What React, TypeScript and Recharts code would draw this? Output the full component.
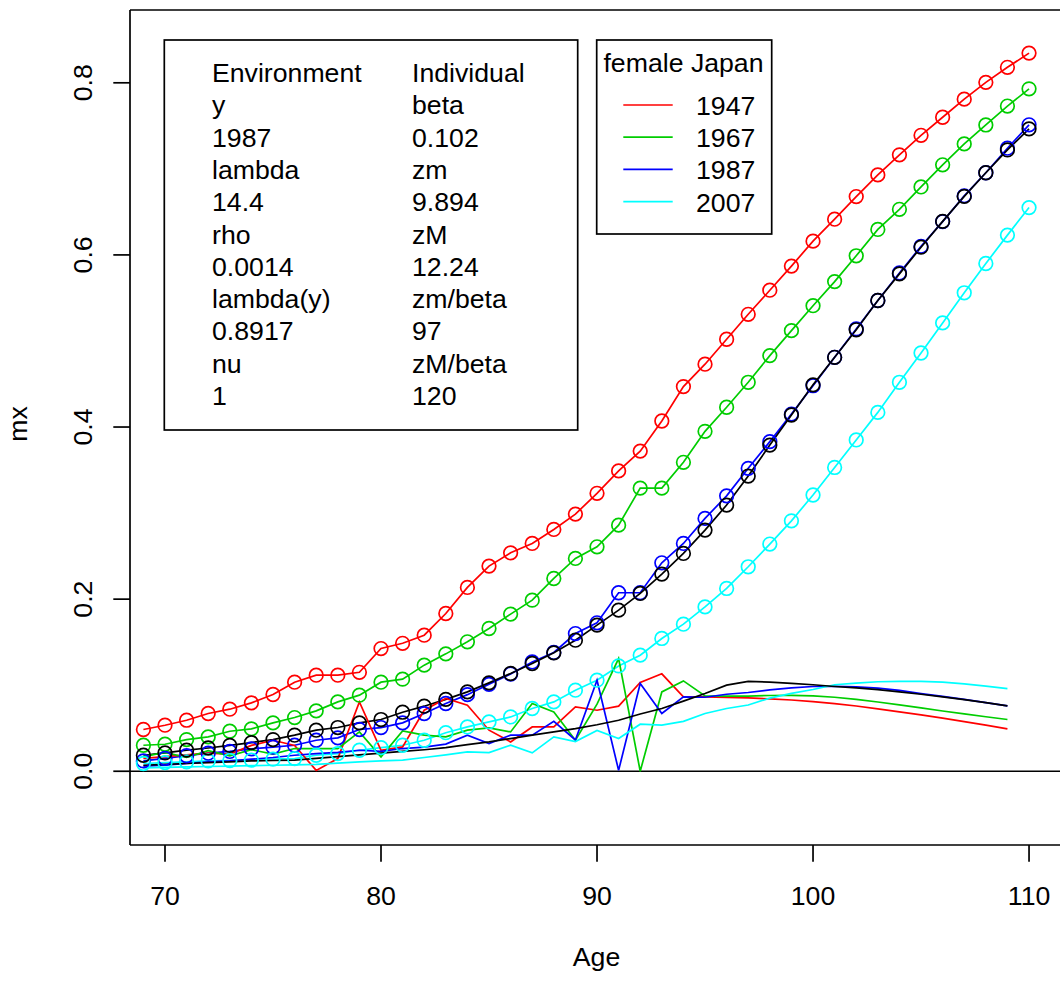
import React from 'react';
import { ComposedChart, Line, XAxis, YAxis, ReferenceLine } from 'recharts';

// ---------- data ----------
const ages = [69, 70, 71, 72, 73, 74, 75, 76, 77, 78, 79, 80, 81, 82, 83, 84, 85, 86, 87, 88, 89,
  90, 91, 92, 93, 94, 95, 96, 97, 98, 99, 100, 101, 102, 103, 104, 105, 106, 107, 108, 109, 110];

// observed mx (circles)
const obs1947 = [0.0485, 0.0535, 0.0593, 0.0671, 0.0721, 0.0795, 0.0892, 0.1035, 0.1116, 0.1116, 0.115,
  0.1426, 0.1487, 0.1581, 0.1833, 0.2136, 0.2384, 0.2538, 0.2647, 0.281, 0.2988, 0.323, 0.349, 0.372,
  0.407, 0.447, 0.473, 0.502, 0.531, 0.559, 0.587, 0.616, 0.6415, 0.6678, 0.693, 0.7163, 0.739, 0.76,
  0.781, 0.8005, 0.818, 0.8345];
const obs1967 = [0.0302, 0.0314, 0.0368, 0.0399, 0.0465, 0.0492, 0.0562, 0.0624, 0.0702, 0.0806, 0.0884,
  0.1035, 0.107, 0.1233, 0.1364, 0.1504, 0.1659, 0.1826, 0.1988, 0.224, 0.2473, 0.2608, 0.286, 0.329,
  0.329, 0.359, 0.395, 0.423, 0.452, 0.483, 0.512, 0.541, 0.569, 0.599, 0.6296, 0.653, 0.679, 0.7047,
  0.729, 0.751, 0.773, 0.793];
const obs1987 = [0.012, 0.015, 0.018, 0.021, 0.023, 0.026, 0.028, 0.0302, 0.036, 0.0388, 0.0485, 0.0508,
  0.0562, 0.067, 0.0787, 0.089, 0.101, 0.113, 0.127, 0.138, 0.16, 0.1725, 0.2074, 0.2074, 0.2422, 0.2647,
  0.2938, 0.32, 0.352, 0.383, 0.415, 0.448, 0.481, 0.514, 0.547, 0.579, 0.61, 0.6387, 0.6686, 0.6955,
  0.724, 0.7512];
const obs2007 = [0.009, 0.01, 0.011, 0.012, 0.0125, 0.013, 0.014, 0.0147, 0.0186, 0.0205, 0.0244, 0.0275,
  0.0302, 0.036, 0.0448, 0.0515, 0.0573, 0.0631, 0.0729, 0.0806, 0.0942, 0.1058, 0.1224, 0.1349, 0.1543,
  0.1709, 0.191, 0.2124, 0.2376, 0.264, 0.291, 0.321, 0.353, 0.385, 0.417, 0.452, 0.486, 0.521, 0.556,
  0.59, 0.623, 0.655];
// fitted model for 1987 (black circles)
const fitted1987 = [0.0186, 0.0213, 0.0245, 0.027, 0.03, 0.0333, 0.0368, 0.0419, 0.0477, 0.0508, 0.0562,
  0.0601, 0.0686, 0.0756, 0.0835, 0.0922, 0.1027, 0.1136, 0.1252, 0.1376, 0.1523, 0.1698, 0.1872, 0.2066,
  0.2291, 0.2531, 0.2802, 0.3093, 0.343, 0.379, 0.414, 0.449, 0.481, 0.513, 0.547, 0.578, 0.609, 0.639,
  0.668, 0.6955, 0.722, 0.7465];

// lower curves without markers (ages 69..109)
const low1947 = [0.015, 0.017, 0.019, 0.021, 0.02, 0.03, 0.036, 0.03, 0.001, 0.0147, 0.0806, 0.0244,
  0.0283, 0.0709, 0.0845, 0.0767, 0.0477, 0.0341, 0.0515, 0.0515, 0.0748, 0.0709, 0.0757, 0.1032, 0.1132,
  0.0864, 0.0864, 0.0858, 0.0852, 0.084, 0.0828, 0.0808, 0.0785, 0.0758, 0.0725, 0.069, 0.0655, 0.0617,
  0.0577, 0.0535, 0.0492];
const low1967 = [0.017, 0.022, 0.016, 0.024, 0.018, 0.025, 0.02, 0.0264, 0.0264, 0.0264, 0.0457, 0.0167,
  0.0469, 0.0419, 0.0399, 0.0477, 0.0504, 0.0457, 0.0787, 0.069, 0.036, 0.078, 0.131, 0.0, 0.0922, 0.105,
  0.0875, 0.0872, 0.0874, 0.088, 0.0882, 0.0876, 0.086, 0.0835, 0.0805, 0.0772, 0.0736, 0.07, 0.0666,
  0.0633, 0.0601];
const low1987 = [0.006, 0.007, 0.009, 0.011, 0.012, 0.014, 0.016, 0.0186, 0.0205, 0.022, 0.0244, 0.023,
  0.0264, 0.028, 0.0315, 0.0419, 0.0322, 0.0419, 0.0419, 0.0581, 0.0364, 0.1058, 0.001, 0.102, 0.0671,
  0.0864, 0.086, 0.0895, 0.0915, 0.0945, 0.0968, 0.0985, 0.0988, 0.098, 0.0965, 0.094, 0.0903, 0.087,
  0.0835, 0.0798, 0.076];
const low2007 = [0.004, 0.0045, 0.005, 0.0055, 0.006, 0.0065, 0.007, 0.0075, 0.008, 0.0095, 0.011, 0.012,
  0.013, 0.016, 0.019, 0.0225, 0.0217, 0.0302, 0.0213, 0.0399, 0.0345, 0.0473, 0.038, 0.0547, 0.0535,
  0.058, 0.0671, 0.0729, 0.077, 0.085, 0.0905, 0.095, 0.1005, 0.1025, 0.104, 0.1045, 0.1045, 0.1035,
  0.1015, 0.099, 0.0961];
const lowFitted = [0.007, 0.008, 0.009, 0.01, 0.011, 0.012, 0.0125, 0.013, 0.015, 0.017, 0.019, 0.021,
  0.023, 0.025, 0.0275, 0.031, 0.0341, 0.038, 0.0419, 0.0458, 0.0496, 0.054, 0.0593, 0.0665, 0.0729,
  0.0815, 0.0903, 0.1, 0.1045, 0.1035, 0.1022, 0.1005, 0.0985, 0.0968, 0.0948, 0.0922, 0.0895, 0.0865,
  0.0832, 0.0797, 0.076];

const xTicks = [70, 80, 90, 100, 110];
const yTicks = [0, 0.2, 0.4, 0.6, 0.8];

const legendTitle = 'female Japan';
const legendYears = ['1947', '1967', '1987', '2007'];
const infoLeft = ['Environment', 'y', '1987', 'lambda', '14.4', 'rho', '0.0014', 'lambda(y)', '0.8917', 'nu', '1'];
const infoRight = ['Individual', 'beta', '0.102', 'zm', '9.894', 'zM', '12.24', 'zm/beta', '97', 'zM/beta', '120'];

// ---------- styling ----------
const FONT = '"Liberation Sans", Arial, Helvetica, sans-serif';
const FS = 26.67;
const LW = 1.7;
const R = 6.8;
const COLORS = ['#FF0000', '#00CD00', '#0000FF', '#00FFFF'];
const X_MIN = 68.38;
const X_MAX = 111.6;
const Y_MIN = -0.0857;
const Y_MAX = 0.8846;

const data = ages.map((age, i) => ({
  age,
  o1947: obs1947[i],
  o1967: obs1967[i],
  o1987: obs1987[i],
  o2007: obs2007[i],
  fit: fitted1987[i],
  l1947: low1947[i],
  l1967: low1967[i],
  l1987: low1987[i],
  l2007: low2007[i],
  lfit: lowFitted[i],
}));

const XTick = (props: any) => {
  const { x, payload } = props;
  return (
    <text x={x} y={905} textAnchor="middle" fontSize={FS} fontFamily={FONT} fill="#000">
      {String(payload.value)}
    </text>
  );
};

const YTick = (props: any) => {
  const { y, payload } = props;
  const bx = 92;
  return (
    <text x={bx} y={y} transform={`rotate(-90 ${bx} ${y})`} textAnchor="middle" fontSize={FS}
      fontFamily={FONT} fill="#000">
      {Number(payload.value).toFixed(1)}
    </text>
  );
};

const circleKeys = ['o1947', 'o1967', 'o1987', 'o2007'];
const lowKeys = ['l1947', 'l1967', 'l1987', 'l2007'];

export default function App() {
  return (
    <div style={{ position: 'absolute', left: 0, top: 0, width: 1060, height: 981, overflow: 'hidden', background: '#fff', fontFamily: FONT }}>
      <ComposedChart width={1070} height={981} data={data}
        margin={{ top: 10, right: 6.4, bottom: 135, left: 129 }}>
        <XAxis dataKey="age" type="number" domain={[X_MIN, X_MAX]} allowDataOverflow ticks={xTicks}
          height={1} tickSize={16.7} tick={<XTick />} interval={0}
          axisLine={{ stroke: '#000', strokeWidth: LW }} tickLine={{ stroke: '#000', strokeWidth: LW }} />
        <YAxis type="number" domain={[Y_MIN, Y_MAX]} allowDataOverflow ticks={yTicks} width={1}
          tickSize={16.7} tick={<YTick />} interval={0}
          axisLine={{ stroke: '#000', strokeWidth: LW }} tickLine={{ stroke: '#000', strokeWidth: LW }} />
        <ReferenceLine y={Y_MAX} stroke="#000" strokeWidth={LW} />
        <ReferenceLine y={0} stroke="#000" strokeWidth={LW} />
        {circleKeys.map((k, i) => (
          <Line key={k} dataKey={k} type="linear" stroke={COLORS[i]} strokeWidth={LW}
            dot={{ r: R, fill: 'none', stroke: COLORS[i], strokeWidth: LW }} activeDot={false}
            isAnimationActive={false} />
        ))}
        <Line dataKey="fit" type="linear" stroke="#000" strokeWidth={LW}
          dot={{ r: R, fill: 'none', stroke: '#000', strokeWidth: LW }} activeDot={false}
          isAnimationActive={false} />
        {lowKeys.map((k, i) => (
          <Line key={k} dataKey={k} type="linear" stroke={COLORS[i]} strokeWidth={LW} dot={false}
            activeDot={false} isAnimationActive={false} />
        ))}
        <Line dataKey="lfit" type="linear" stroke="#000" strokeWidth={LW} dot={false} activeDot={false}
          isAnimationActive={false} />
      </ComposedChart>

      <svg width={1060} height={981} style={{ position: 'absolute', left: 0, top: 0, pointerEvents: 'none' }}>
        {/* axis titles */}
        <text x={596.5} y={966} textAnchor="middle" fontSize={FS} fontFamily={FONT} fill="#000">Age</text>
        <text x={26.7} y={424} transform="rotate(-90 26.7 424)" textAnchor="middle" fontSize={FS}
          fontFamily={FONT} fill="#000">mx</text>

        {/* parameter box */}
        <rect x={164.3} y={40} width={413.4} height={390} fill="#fff" stroke="#000" strokeWidth={LW} />
        {infoLeft.map((t, i) => (
          <text key={'l' + i} x={212} y={82 + 32.3 * i} fontSize={FS} fontFamily={FONT} fill="#000">{t}</text>
        ))}
        {infoRight.map((t, i) => (
          <text key={'r' + i} x={412} y={82 + 32.3 * i} fontSize={FS} fontFamily={FONT} fill="#000">{t}</text>
        ))}

        {/* legend */}
        <rect x={596.7} y={40} width={175} height={194} fill="#fff" stroke="#000" strokeWidth={LW} />
        <text x={683.5} y={72} textAnchor="middle" fontSize={FS} fontFamily={FONT} fill="#000">{legendTitle}</text>
        {legendYears.map((t, i) => (
          <g key={t}>
            <line x1={623.3} x2={672.7} y1={105 + 32.2 * i} y2={105 + 32.2 * i} stroke={COLORS[i]} strokeWidth={LW} />
            <text x={696} y={115 + 32.2 * i} fontSize={FS} fontFamily={FONT} fill="#000">{t}</text>
          </g>
        ))}
      </svg>
    </div>
  );
}
